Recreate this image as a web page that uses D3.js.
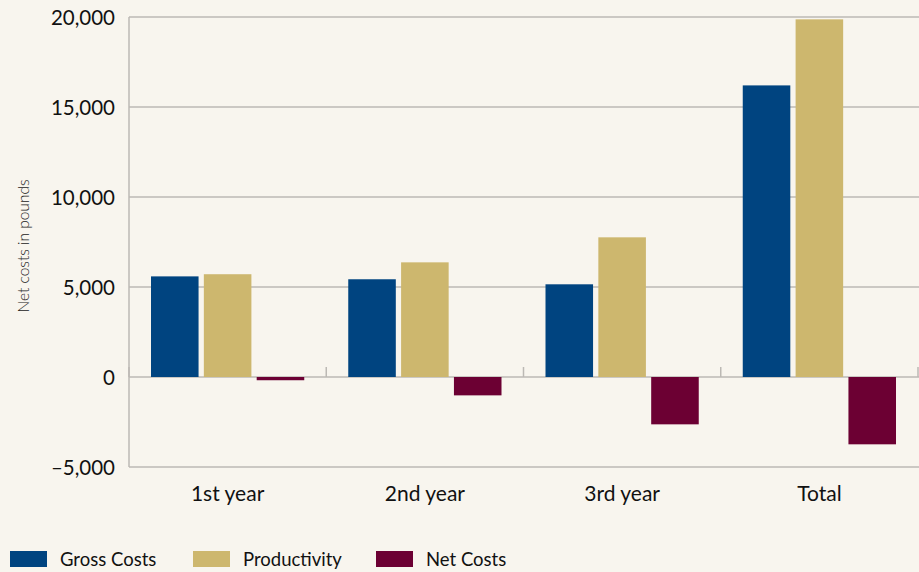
<!DOCTYPE html>
<html>
<head>
<meta charset="utf-8">
<script src="https://cdn.jsdelivr.net/npm/d3@7"></script>
<style>
  html, body { margin: 0; padding: 0; background: #f8f5ee; }
  svg { display: block; font-family: Lato, "Open Sans", sans-serif; }
</style>
</head>
<body>
<div id="chart"></div>
<script>
var categories = ["1st year", "2nd year", "3rd year", "Total"];
var seriesNames = ["Gross Costs", "Productivity", "Net Costs"];
var grossCosts = [5590, 5430, 5150, 16200];
var productivity = [5710, 6370, 7760, 19870];
var netCosts = [-180, -1020, -2630, -3740];
var yTicks = [-5000, 0, 5000, 10000, 15000, 20000];

var colors = ["#004480", "#cdb76e", "#6c0033"];

var width = 919;
var height = 572;

var svg = d3.select("#chart")
            .append("svg")
            .attr("width", width)
            .attr("height", height);

var plot = {left: 129, right: 918, top: 17, bottom: 467};

var x = d3.scaleBand()
          .domain(categories)
          .range([plot.left, plot.right])
          .padding(0);

var inner = d3.scaleBand()
              .domain(seriesNames)
              .range([22, x.bandwidth() - 22])
              .paddingInner(0.1);

var y = d3.scaleLinear()
          .domain([-5000, 20000])
          .range([plot.bottom, plot.top]);

var values = [grossCosts, productivity, netCosts];

// gridlines
svg.append("g")
   .selectAll("line")
   .data(yTicks)
   .enter()
     .append("line")
     .attr("x1", plot.left)
     .attr("x2", width)
     .attr("y1", function(d) { return y(d); })
     .attr("y2", function(d) { return y(d); })
     .attr("stroke", "#bcb9b4")
     .attr("stroke-width", 1.5);

// left axis line
svg.append("line")
   .attr("x1", plot.left).attr("x2", plot.left)
   .attr("y1", y(20000)).attr("y2", y(-5000))
   .attr("stroke", "#bcb9b4")
   .attr("stroke-width", 1.5);

// y labels
var yAxis = d3.axisLeft(y)
              .tickValues(yTicks)
              .tickSize(0)
              .tickPadding(14)
              .tickFormat(function(d) { return d3.format(",")(d).replace("-", "\u2013").replace("\u2212", "\u2013"); });

var yg = svg.append("g")
            .attr("transform", "translate(" + plot.left + ",0)")
            .call(yAxis);
yg.select(".domain").remove();
yg.selectAll("text")
  .attr("font-size", 20.5)
  .attr("font-family", "Lato, sans-serif")
  .attr("fill", "#111")
  .attr("dy", "0.36em");

// bars
categories.forEach(function(c, i) {
  var g = svg.append("g").attr("transform", "translate(" + x(c) + ",0)");
  g.selectAll("rect")
   .data(seriesNames.map(function(s, j) { return {s: s, v: values[j][i], c: colors[j]}; }))
   .enter()
     .append("rect")
     .attr("x", function(d) { return inner(d.s); })
     .attr("width", inner.bandwidth())
     .attr("y", function(d) { return y(Math.max(0, d.v)); })
     .attr("height", function(d) { return Math.abs(y(d.v) - y(0)); })
     .attr("fill", function(d) { return d.c; });
});

// category boundary ticks on zero line
var bounds = categories.map(function(c) { return x(c); }).concat([plot.right]);
svg.append("g")
   .selectAll("line")
   .data(bounds)
   .enter()
     .append("line")
     .attr("x1", function(d) { return d; })
     .attr("x2", function(d) { return d; })
     .attr("y1", y(0))
     .attr("y2", y(0) - 10)
     .attr("stroke", "#bcb9b4")
     .attr("stroke-width", 1.5);

// x labels
svg.append("g")
   .selectAll("text")
   .data(categories)
   .enter()
     .append("text")
     .attr("x", function(d) { return x(d) + x.bandwidth() / 2; })
     .attr("y", 501)
     .attr("text-anchor", "middle")
     .attr("font-size", 21)
     .attr("fill", "#111")
     .text(function(d) { return d; });

// y axis title
svg.append("text")
   .attr("transform", "translate(29,246) rotate(-90)")
   .attr("text-anchor", "middle")
   .attr("font-size", 15.5)
   .attr("font-weight", 300)
   .attr("fill", "#222")
   .text("Net costs in pounds");

// legend
var legendX = [10, 193, 376];
var legend = svg.append("g")
                .selectAll("g")
                .data(seriesNames)
                .enter()
                  .append("g")
                  .attr("transform", function(d, i) { return "translate(" + legendX[i] + ",551)"; });
legend.append("rect")
      .attr("width", 37)
      .attr("height", 16)
      .attr("fill", function(d, i) { return colors[i]; });
legend.append("text")
      .attr("x", 50)
      .attr("y", 15)
      .attr("font-size", 18.5)
      .attr("fill", "#111")
      .text(function(d) { return d; });
</script>
</body>
</html>
